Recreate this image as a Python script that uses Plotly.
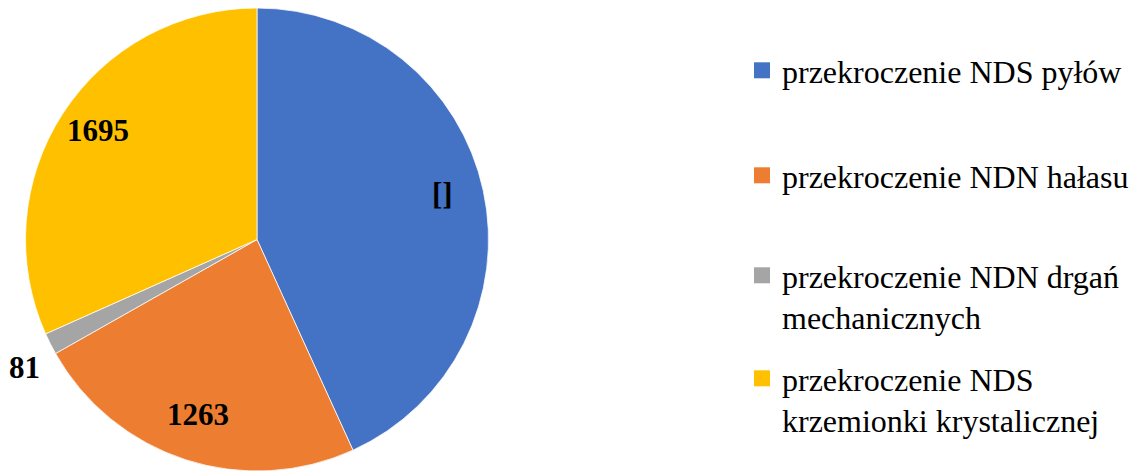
import math
import plotly.graph_objects as go

categories = [
    "przekroczenie NDS pyłów",
    "przekroczenie NDN hałasu",
    "przekroczenie NDN drgań mechanicznych",
    "przekroczenie NDS krzemionki krystalicznej",
]
legend_labels = [
    "przekroczenie NDS pyłów",
    "przekroczenie NDN hałasu",
    "przekroczenie NDN drgań<br>mechanicznych",
    "przekroczenie NDS<br>krzemionki krystalicznej",
]
values = [2311, 1263, 81, 1695]
slice_text = ["[]", "1263", "81", "1695"]
colors = ["#4472C4", "#ED7D31", "#A5A5A5", "#FFC000"]
label_inside = [True, True, False, True]

FONT = "Liberation Serif, Times New Roman, serif"
W, H = 1132, 471

# pie geometry (pixels)
dom_x = [25.5 / W, 488.5 / W]
dom_y = [0.0, (H - 8) / H]
R_px = min((dom_x[1] - dom_x[0]) * W, (dom_y[1] - dom_y[0]) * H) / 2
cx = (dom_x[0] + dom_x[1]) / 2
cy = (dom_y[0] + dom_y[1]) / 2

fig = go.Figure()
fig.add_trace(go.Pie(
    labels=categories,
    values=values,
    textinfo="none",
    sort=False,
    direction="clockwise",
    rotation=0,
    automargin=False,
    marker=dict(colors=colors, line=dict(color="white", width=0.75)),
    showlegend=False,
    hoverinfo="label+value",
    domain=dict(x=dom_x, y=dom_y),
))

# data labels placed along each slice's mid-angle (derived from the values)
total = sum(values)
cum = 0.0
for v, t, inside in zip(values, slice_text, label_inside):
    mid = (cum + v / 2) / total * 2 * math.pi
    cum += v
    sx, sy = math.sin(mid), math.cos(mid)
    if inside:
        f = 0.82
        fig.add_annotation(
            x=cx + f * R_px * sx / W, y=cy + f * R_px * sy / H,
            xref="paper", yref="paper", text=t, showarrow=False,
            xanchor="center", yanchor="middle", yshift=6,
            font=dict(family=FONT, size=31, color="black", weight="bold"),
        )
    else:
        f = 1.04
        fig.add_annotation(
            x=cx + f * R_px * sx / W, y=cy + f * R_px * sy / H,
            xref="paper", yref="paper", text=t, showarrow=False,
            xanchor="right" if sx < 0 else "left",
            yanchor="top" if sy < 0 else "bottom",
            font=dict(family=FONT, size=31, color="black", weight="bold"),
        )

for i, (lab, col) in enumerate(zip(legend_labels, colors)):
    lname = "legend" if i == 0 else f"legend{i + 1}"
    fig.add_trace(go.Scatter(
        x=[None], y=[None], mode="markers", name=lab,
        marker=dict(symbol="square", size=16, color=col),
        legend=lname, showlegend=True,
    ))

legend_common = dict(
    xref="container", yref="container", xanchor="left", yanchor="top",
    font=dict(family=FONT, size=32, color="black"),
    bgcolor="rgba(0,0,0,0)", borderwidth=0, valign="top",
    itemclick=False, itemdoubleclick=False,
)
legend_top_px = [43, 148, 248, 351]
layout_legends = {}
for i, top in enumerate(legend_top_px):
    lname = "legend" if i == 0 else f"legend{i + 1}"
    layout_legends[lname] = dict(legend_common, x=742 / W, y=1 - top / H)

fig.update_layout(
    width=W, height=H,
    margin=dict(l=0, r=0, t=0, b=0, autoexpand=False),
    paper_bgcolor="white", plot_bgcolor="white",
    xaxis=dict(visible=False), yaxis=dict(visible=False),
    **layout_legends,
)

fig.write_html(
    "out.html",
    config={"displayModeBar": False},
    post_script="document.body.style.margin='0';document.body.style.padding='0';",
)
